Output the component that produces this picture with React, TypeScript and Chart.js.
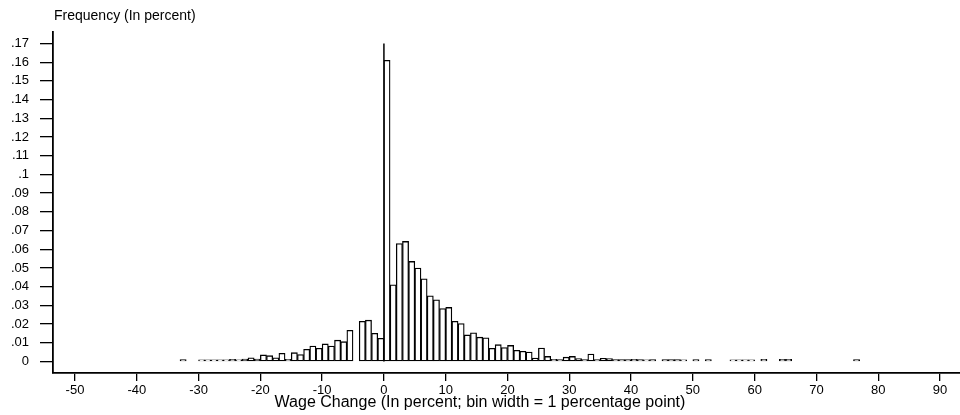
import React, { useEffect, useRef } from "react";
import { Chart, registerables } from "chart.js";

Chart.register(...registerables);

// Bin start (percent wage change), bin width = 1 percentage point
const binStarts = [
  -33, -32, -31, -30, -29, -28, -27, -26, -25, -24, -23, -22, -21, -20, -19, -18, -17, -16, -15, -14,
  -13, -12, -11, -10, -9, -8, -7, -6, -5, -4, -3, -2, -1, 0, 1, 2, 3, 4, 5, 6,
  7, 8, 9, 10, 11, 12, 13, 14, 15, 16, 17, 18, 19, 20, 21, 22, 23, 24, 25, 26,
  27, 28, 29, 30, 31, 32, 33, 34, 35, 36, 37, 38, 39, 40, 41, 42, 43, 44, 45, 46,
  47, 48, 49, 50, 51, 52, 53, 54, 55, 56, 57, 58, 59, 60, 61, 62, 63, 64, 65, 66,
  67, 68, 69, 70, 71, 72, 73, 74, 75, 76,
];

// Frequency for each bin
const frequency = [
  0.001, 0, 0, 0.0009, 0.0009, 0.0009, 0.0009, 0.0009, 0.0011, 0.0009, 0.0013, 0.002, 0.0013, 0.0035, 0.0031, 0.002, 0.0044, 0.0011, 0.0047, 0.0037,
  0.0065, 0.0083, 0.0071, 0.0094, 0.0083, 0.0114, 0.0106, 0.0167, 0, 0.0215, 0.0221, 0.0151, 0.0124, 0.161, 0.041, 0.063, 0.0642, 0.0535, 0.05, 0.0442,
  0.0351, 0.033, 0.0283, 0.0289, 0.0215, 0.0203, 0.0142, 0.0153, 0.013, 0.0127, 0.007, 0.009, 0.0075, 0.0086, 0.006, 0.0055, 0.005, 0.0018, 0.0072, 0.0027,
  0.0012, 0.001, 0.0023, 0.0027, 0.0015, 0.001, 0.004, 0.001, 0.0017, 0.0015, 0.001, 0.001, 0.001, 0.0011, 0.001, 0.0009, 0.001, 0, 0.001, 0.001,
  0.001, 0.0009, 0, 0.001, 0, 0.001, 0, 0, 0, 0.0009, 0.0009, 0.0009, 0.0009, 0, 0.0011, 0, 0, 0.0011, 0.0011, 0,
  0, 0, 0, 0, 0, 0, 0, 0, 0, 0.001,
];

// Spike at exactly zero change
const spikeAt = 0;
const spikeHeight = 0.17;

const yTickValues = [0, 0.01, 0.02, 0.03, 0.04, 0.05, 0.06, 0.07, 0.08, 0.09, 0.1, 0.11, 0.12, 0.13, 0.14, 0.15, 0.16, 0.17];
const yTickLabels = ["0", ".01", ".02", ".03", ".04", ".05", ".06", ".07", ".08", ".09", ".1", ".11", ".12", ".13", ".14", ".15", ".16", ".17"];
const xTickValues = [-50, -40, -30, -20, -10, 0, 10, 20, 30, 40, 50, 60, 70, 80, 90];
const xTickLabels = ["-50", "-40", "-30", "-20", "-10", "0", "10", "20", "30", "40", "50", "60", "70", "80", "90"];

const yTitle = "Frequency (In percent)";
const xTitle = "Wage Change (In percent; bin width = 1 percentage point)";

const FONT = "'Liberation Sans', Arial, Helvetica, sans-serif";

export default function App() {
  const ref = useRef<HTMLCanvasElement | null>(null);

  useEffect(() => {
    if (!ref.current) return;
    const titles = {
      id: "titles",
      afterDraw(chart: any) {
        const ctx = chart.ctx;
        ctx.save();
        ctx.fillStyle = "#000";
        ctx.textBaseline = "middle";
        ctx.font = `14px ${FONT}`;
        ctx.textAlign = "left";
        ctx.fillText(yTitle, chart.chartArea.left + 1, 16);
        ctx.font = `16px ${FONT}`;
        ctx.textAlign = "center";
        ctx.fillText(xTitle, chart.width / 2, 403);
        ctx.restore();
      },
    };
    const chart = new Chart(ref.current, {
      type: "bar",
      data: {
        datasets: [
          {
            type: "bar",
            data: binStarts.map((b, i) => ({ x: b + 0.5, y: frequency[i] })),
            backgroundColor: "#fff",
            borderColor: "#000",
            borderWidth: 1.3,
            borderSkipped: false,
            barPercentage: 1,
            categoryPercentage: 1,
          } as any,
          {
            type: "line",
            data: [
              { x: spikeAt, y: 0 },
              { x: spikeAt, y: spikeHeight },
            ],
            borderColor: "#000",
            borderWidth: 1.5,
            pointRadius: 0,
            fill: false,
          } as any,
        ],
      },
      options: {
        animation: false,
        responsive: false,
        layout: { padding: { top: 32, right: 0, left: 0, bottom: 0 } },
        plugins: { legend: { display: false }, tooltip: { enabled: false }, title: { display: false } },
        scales: {
          x: {
            type: "linear",
            min: -53.56,
            max: 93.24,
            offset: false,
            afterBuildTicks: (s: any) => {
              s.ticks = xTickValues.map((v) => ({ value: v }));
            },
            afterFit: (s: any) => {
              s.height = 42;
            },
            ticks: {
              autoSkip: false,
              maxRotation: 0,
              padding: 2,
              color: "#000",
              font: { family: FONT, size: 13 },
              callback: (v: any) => {
                const i = xTickValues.indexOf(Number(v));
                return i >= 0 ? xTickLabels[i] : "";
              },
            },
            grid: { offset: false, drawOnChartArea: false, drawTicks: true, tickLength: 8, color: "#000", lineWidth: 1.3 },
            border: { display: true, color: "#000", width: 1.8 },
            title: { display: false },
          },
          y: {
            type: "linear",
            min: -0.00615,
            max: 0.17615,
            afterBuildTicks: (s: any) => {
              s.ticks = yTickValues.map((v) => ({ value: v }));
            },
            afterFit: (s: any) => {
              s.width = 53;
            },
            ticks: {
              autoSkip: false,
              padding: 11,
              color: "#000",
              font: { family: FONT, size: 13 },
              callback: (v: any) => {
                const i = yTickValues.findIndex((t) => Math.abs(t - Number(v)) < 1e-9);
                return i >= 0 ? yTickLabels[i] : "";
              },
            },
            grid: { drawOnChartArea: false, drawTicks: true, tickLength: 13, color: "#000", lineWidth: 1.3 },
            border: { display: true, color: "#000", width: 1.8 },
          },
        },
      } as any,
      plugins: [titles],
    });
    return () => chart.destroy();
  }, []);

  return (
    <div style={{ position: "fixed", left: 0, top: 0, width: 960, height: 415, background: "#fff" }}>
      <canvas ref={ref} width={960} height={415} style={{ width: 960, height: 415, display: "block" }} />
    </div>
  );
}
